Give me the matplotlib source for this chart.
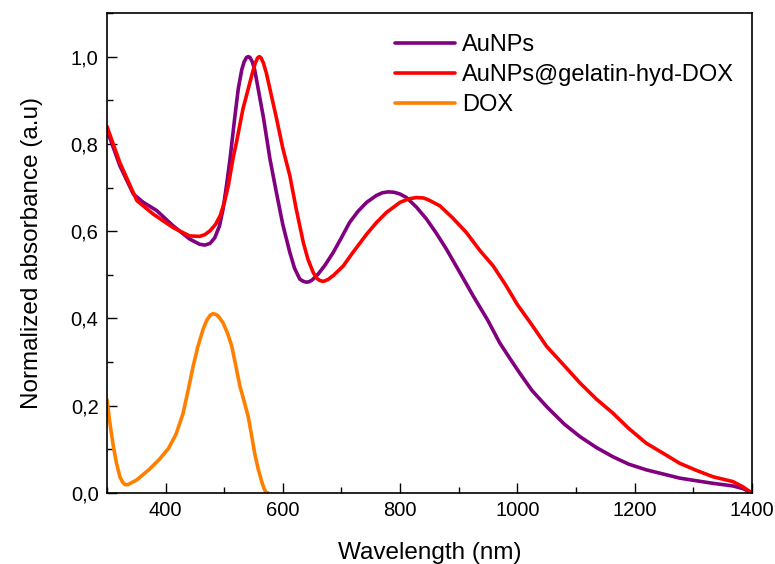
import matplotlib
matplotlib.use("Agg")
import matplotlib.pyplot as plt
import matplotlib.ticker as ticker

plt.rcParams.update({
    "font.family": "Liberation Sans",
    "font.size": 14,
    "axes.linewidth": 1.2,
})

# ── Spectra (wavelength in nm, normalized absorbance) ────────────────────────
wl_aunps = [300, 322, 345, 362, 385, 413, 441, 458, 467, 476, 484, 492, 498,
            504, 510, 518, 524, 530, 534, 538, 541, 544, 548, 552, 558, 567,
            578, 589, 600, 612, 620, 629, 635, 640, 645, 650, 660, 672, 686,
            700, 714, 728, 743, 760, 770, 780, 790, 800, 811, 828, 845, 862,
            879, 900, 925, 950, 970, 988, 1004, 1025, 1050, 1080, 1107, 1135,
            1163, 1190, 1220, 1250, 1277, 1305, 1334, 1368, 1385, 1400]
abs_aunps = [0.832, 0.750, 0.685, 0.666, 0.647, 0.612, 0.582, 0.570, 0.568,
             0.572, 0.585, 0.612, 0.650, 0.705, 0.766, 0.860, 0.926, 0.970,
             0.988, 0.998, 1.000, 0.998, 0.988, 0.970, 0.926, 0.860, 0.766,
             0.689, 0.615, 0.551, 0.515, 0.490, 0.485, 0.483, 0.484, 0.488,
             0.501, 0.522, 0.551, 0.585, 0.620, 0.645, 0.666, 0.682, 0.688,
             0.690, 0.689, 0.685, 0.677, 0.655, 0.628, 0.595, 0.559, 0.510,
             0.451, 0.395, 0.344, 0.307, 0.275, 0.235, 0.198, 0.158, 0.129,
             0.104, 0.083, 0.066, 0.053, 0.043, 0.034, 0.028, 0.022, 0.016,
             0.010, 0.0]

wl_conj = [300, 322, 351, 379, 413, 441, 458, 467, 476, 485, 493, 500, 507,
           515, 521, 532, 541, 548, 553, 557, 560, 563, 567, 572, 578, 589,
           600, 612, 623, 635, 643, 652, 658, 663, 668, 672, 678, 686, 703,
           720, 743, 760, 777, 800, 815, 828, 840, 848, 868, 890, 913, 936,
           959, 980, 1000, 1025, 1050, 1080, 1107, 1135, 1163, 1190, 1220,
           1250, 1277, 1305, 1334, 1368, 1385, 1400]
abs_conj = [0.840, 0.757, 0.670, 0.639, 0.608, 0.589, 0.588, 0.592, 0.601,
            0.615, 0.635, 0.664, 0.704, 0.766, 0.804, 0.880, 0.926, 0.962,
            0.985, 0.997, 1.000, 0.997, 0.985, 0.962, 0.926, 0.860, 0.790,
            0.727, 0.650, 0.574, 0.535, 0.505, 0.492, 0.487, 0.485, 0.486,
            0.490, 0.498, 0.520, 0.552, 0.593, 0.620, 0.643, 0.666, 0.674,
            0.677, 0.676, 0.672, 0.658, 0.630, 0.597, 0.556, 0.520, 0.477,
            0.432, 0.385, 0.336, 0.292, 0.252, 0.215, 0.183, 0.148, 0.114,
            0.090, 0.068, 0.052, 0.037, 0.026, 0.014, 0.0]

wl_dox = [300, 305, 311, 316, 322, 327, 331, 336, 340, 351, 373, 390, 405,
          418, 430, 440, 447, 455, 464, 470, 476, 481, 486, 490, 498, 506,
          513, 520, 527, 534, 541, 547, 552, 558, 564, 568, 572, 575]
abs_dox = [0.214, 0.160, 0.106, 0.070, 0.037, 0.024, 0.019, 0.019, 0.022,
           0.030, 0.055, 0.078, 0.102, 0.135, 0.183, 0.245, 0.290, 0.335,
           0.375, 0.395, 0.407, 0.411, 0.409, 0.405, 0.390, 0.365, 0.336,
           0.290, 0.244, 0.210, 0.175, 0.130, 0.091, 0.055, 0.026, 0.010,
           0.0, 0.0]

SERIES = [
    ("AuNPs", wl_aunps, abs_aunps, "#800080"),
    ("AuNPs@gelatin-hyd-DOX", wl_conj, abs_conj, "#FF0000"),
    ("DOX", wl_dox, abs_dox, "#FF8000"),
]

fig = plt.figure(figsize=(7.75, 5.64), dpi=100)
ax = fig.add_axes([0.138, 0.126, 0.832, 0.851])

for label, x, y, c in SERIES:
    ax.plot(x, y, color=c, lw=2.6, label=label,
            solid_joinstyle="round", solid_capstyle="round")

ax.set_xlim(300, 1400)
ax.set_ylim(0, 1.1)
ax.xaxis.set_major_locator(ticker.MultipleLocator(200))
ax.xaxis.set_minor_locator(ticker.MultipleLocator(100))
ax.yaxis.set_major_locator(ticker.MultipleLocator(0.2))
ax.yaxis.set_minor_locator(ticker.MultipleLocator(0.1))
ax.yaxis.set_major_formatter(
    ticker.FuncFormatter(lambda v, _: f"{v:.1f}".replace(".", ",")))
ax.tick_params(which="both", direction="in", width=1.0)
ax.tick_params(which="major", length=7, labelsize=14.5, pad=6)
ax.tick_params(which="minor", length=4)

ax.set_xlabel("Wavelength (nm)", fontsize=17.5, labelpad=16)
ax.set_ylabel("Normalized absorbance (a.u)", fontsize=17.5, labelpad=20)

ax.legend(loc="upper right", bbox_to_anchor=(0.995, 0.985), frameon=False,
          fontsize=17, handlelength=2.55, handletextpad=0.3,
          labelspacing=0.33, borderaxespad=0.2)

fig.savefig("out.png", dpi=100)
